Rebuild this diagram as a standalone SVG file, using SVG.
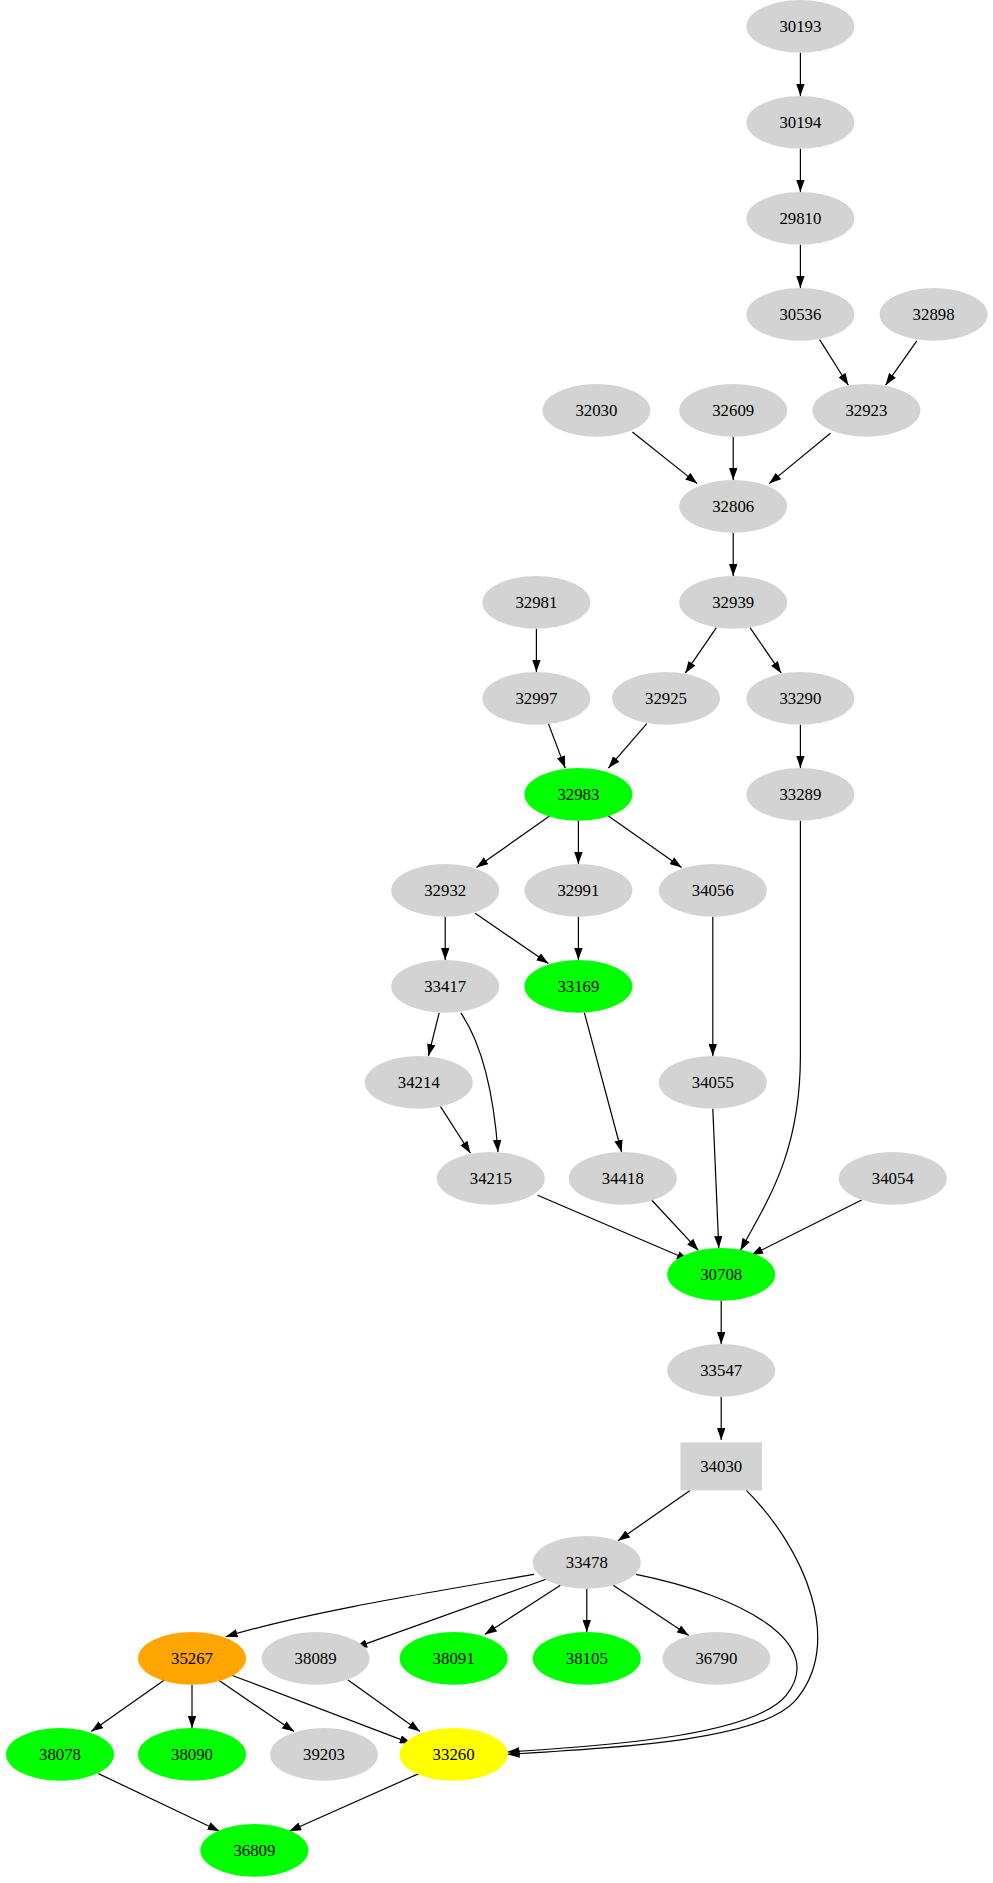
<svg xmlns="http://www.w3.org/2000/svg" width="993" height="1883" viewBox="0 0 993 1883">
<style>
.n ellipse,.n rect{stroke:none}
.g ellipse,.g rect{fill:#d3d3d3}
.gr ellipse{fill:#00ff00}
text{font-family:"Liberation Serif","Times New Roman",serif;font-size:14px;text-anchor:middle;dominant-baseline:central;fill:#000}
#edges path{fill:none;stroke:#000;stroke-width:1;marker-end:url(#a)}
</style>
<defs><marker id="a" markerWidth="10" markerHeight="7" refX="10" refY="3.5" orient="auto" markerUnits="strokeWidth"><path d="M0,0 L10,3.5 L0,7 z" fill="#000"/></marker></defs>
<rect width="993" height="1883" fill="#fff"/>
<g transform="scale(1.2)">
<g id="edges">
<path d="M667,44 L667,80"/>
<path d="M667,124 L667,160"/>
<path d="M667,204 L667,240"/>
<path d="M683,283 L707,321"/>
<path d="M764,284 L738,321"/>
<path d="M527,360 L581,403"/>
<path d="M611,364 L611,400"/>
<path d="M692,361 L641,403"/>
<path d="M611,444 L611,480"/>
<path d="M597,523 L571,561"/>
<path d="M625,523 L651,561"/>
<path d="M447,524 L447,560"/>
<path d="M457,603 L471,640"/>
<path d="M539,603 L507,640"/>
<path d="M667,604 L667,640"/>
<path d="M458,680 L397,723"/>
<path d="M482,684 L482,720"/>
<path d="M507,680 L568,723"/>
<path d="M371,764 L371,800"/>
<path d="M396,761 L457,803"/>
<path d="M482,764 L482,800"/>
<path d="M594,764 L594,880"/>
<path d="M366,844 L357,880"/>
<path d="M384,844 C405,875 412,920 415,960"/>
<path d="M487,844 L518,960"/>
<path d="M367,922 L392,961"/>
<path d="M594,924 L599,1040"/>
<path d="M543,1000 L582,1042"/>
<path d="M448,996 L574,1050"/>
<path d="M718,1000 L626,1046"/>
<path d="M667,684 L667,880 C667,960 640,1000 617,1042"/>
<path d="M601,1084 L601,1120"/>
<path d="M601,1164 L601,1200"/>
<path d="M575,1242 L515,1284"/>
<path d="M622,1242 C670,1290 705,1370 662,1418 C632,1450 520,1456 423,1462"/>
<path d="M530,1312 C620,1330 690,1370 655,1413 C628,1445 520,1454 423,1460"/>
<path d="M445,1312 C340,1330 250,1345 188,1364"/>
<path d="M455,1316 L296,1373"/>
<path d="M467,1321 L404,1362"/>
<path d="M489,1324 L489,1360"/>
<path d="M511,1321 L574,1363"/>
<path d="M137,1400 L76,1443"/>
<path d="M160,1404 L160,1440"/>
<path d="M182,1400 L245,1443"/>
<path d="M193,1396 L343,1453"/>
<path d="M290,1400 L350,1443"/>
<path d="M82,1478 L183,1526"/>
<path d="M349,1478 L241,1526"/>
</g>
<g id="n30193" class="n g"><ellipse cx="667" cy="22" rx="45" ry="22"/><text x="667" y="22">30193</text></g>
<g id="n30194" class="n g"><ellipse cx="667" cy="102" rx="45" ry="22"/><text x="667" y="102">30194</text></g>
<g id="n29810" class="n g"><ellipse cx="667" cy="182" rx="45" ry="22"/><text x="667" y="182">29810</text></g>
<g id="n30536" class="n g"><ellipse cx="667" cy="262" rx="45" ry="22"/><text x="667" y="262">30536</text></g>
<g id="n32898" class="n g"><ellipse cx="778" cy="262" rx="45" ry="22"/><text x="778" y="262">32898</text></g>
<g id="n32030" class="n g"><ellipse cx="497" cy="342" rx="45" ry="22"/><text x="497" y="342">32030</text></g>
<g id="n32609" class="n g"><ellipse cx="611" cy="342" rx="45" ry="22"/><text x="611" y="342">32609</text></g>
<g id="n32923" class="n g"><ellipse cx="722" cy="342" rx="45" ry="22"/><text x="722" y="342">32923</text></g>
<g id="n32806" class="n g"><ellipse cx="611" cy="422" rx="45" ry="22"/><text x="611" y="422">32806</text></g>
<g id="n32939" class="n g"><ellipse cx="611" cy="502" rx="45" ry="22"/><text x="611" y="502">32939</text></g>
<g id="n32981" class="n g"><ellipse cx="447" cy="502" rx="45" ry="22"/><text x="447" y="502">32981</text></g>
<g id="n32997" class="n g"><ellipse cx="447" cy="582" rx="45" ry="22"/><text x="447" y="582">32997</text></g>
<g id="n32925" class="n g"><ellipse cx="555" cy="582" rx="45" ry="22"/><text x="555" y="582">32925</text></g>
<g id="n33290" class="n g"><ellipse cx="667" cy="582" rx="45" ry="22"/><text x="667" y="582">33290</text></g>
<g id="n32983" class="n gr"><ellipse cx="482" cy="662" rx="45" ry="22"/><text x="482" y="662">32983</text></g>
<g id="n33289" class="n g"><ellipse cx="667" cy="662" rx="45" ry="22"/><text x="667" y="662">33289</text></g>
<g id="n32932" class="n g"><ellipse cx="371" cy="742" rx="45" ry="22"/><text x="371" y="742">32932</text></g>
<g id="n32991" class="n g"><ellipse cx="482" cy="742" rx="45" ry="22"/><text x="482" y="742">32991</text></g>
<g id="n34056" class="n g"><ellipse cx="594" cy="742" rx="45" ry="22"/><text x="594" y="742">34056</text></g>
<g id="n33417" class="n g"><ellipse cx="371" cy="822" rx="45" ry="22"/><text x="371" y="822">33417</text></g>
<g id="n33169" class="n gr"><ellipse cx="482" cy="822" rx="45" ry="22"/><text x="482" y="822">33169</text></g>
<g id="n34214" class="n g"><ellipse cx="349" cy="902" rx="45" ry="22"/><text x="349" y="902">34214</text></g>
<g id="n34055" class="n g"><ellipse cx="594" cy="902" rx="45" ry="22"/><text x="594" y="902">34055</text></g>
<g id="n34215" class="n g"><ellipse cx="409" cy="982" rx="45" ry="22"/><text x="409" y="982">34215</text></g>
<g id="n34418" class="n g"><ellipse cx="519" cy="982" rx="45" ry="22"/><text x="519" y="982">34418</text></g>
<g id="n34054" class="n g"><ellipse cx="744" cy="982" rx="45" ry="22"/><text x="744" y="982">34054</text></g>
<g id="n30708" class="n gr"><ellipse cx="601" cy="1062" rx="45" ry="22"/><text x="601" y="1062">30708</text></g>
<g id="n33547" class="n g"><ellipse cx="601" cy="1142" rx="45" ry="22"/><text x="601" y="1142">33547</text></g>
<g id="n34030" class="n g"><rect x="567" y="1202" width="68" height="40"/><text x="601" y="1222">34030</text></g>
<g id="n33478" class="n g"><ellipse cx="489" cy="1302" rx="45" ry="22"/><text x="489" y="1302">33478</text></g>
<g id="n35267" class="n"><ellipse cx="160" cy="1382" rx="45" ry="22" fill="#ffa500"/><text x="160" y="1382">35267</text></g>
<g id="n38089" class="n g"><ellipse cx="263" cy="1382" rx="45" ry="22"/><text x="263" y="1382">38089</text></g>
<g id="n38091" class="n gr"><ellipse cx="378" cy="1382" rx="45" ry="22"/><text x="378" y="1382">38091</text></g>
<g id="n38105" class="n gr"><ellipse cx="489" cy="1382" rx="45" ry="22"/><text x="489" y="1382">38105</text></g>
<g id="n36790" class="n g"><ellipse cx="597" cy="1382" rx="45" ry="22"/><text x="597" y="1382">36790</text></g>
<g id="n38078" class="n gr"><ellipse cx="50" cy="1462" rx="45" ry="22"/><text x="50" y="1462">38078</text></g>
<g id="n38090" class="n gr"><ellipse cx="160" cy="1462" rx="45" ry="22"/><text x="160" y="1462">38090</text></g>
<g id="n39203" class="n g"><ellipse cx="270" cy="1462" rx="45" ry="22"/><text x="270" y="1462">39203</text></g>
<g id="n33260" class="n"><ellipse cx="378" cy="1462" rx="45" ry="22" fill="#ffff00"/><text x="378" y="1462">33260</text></g>
<g id="n36809" class="n gr"><ellipse cx="212" cy="1542" rx="45" ry="22"/><text x="212" y="1542">36809</text></g>
</g>
</svg>
